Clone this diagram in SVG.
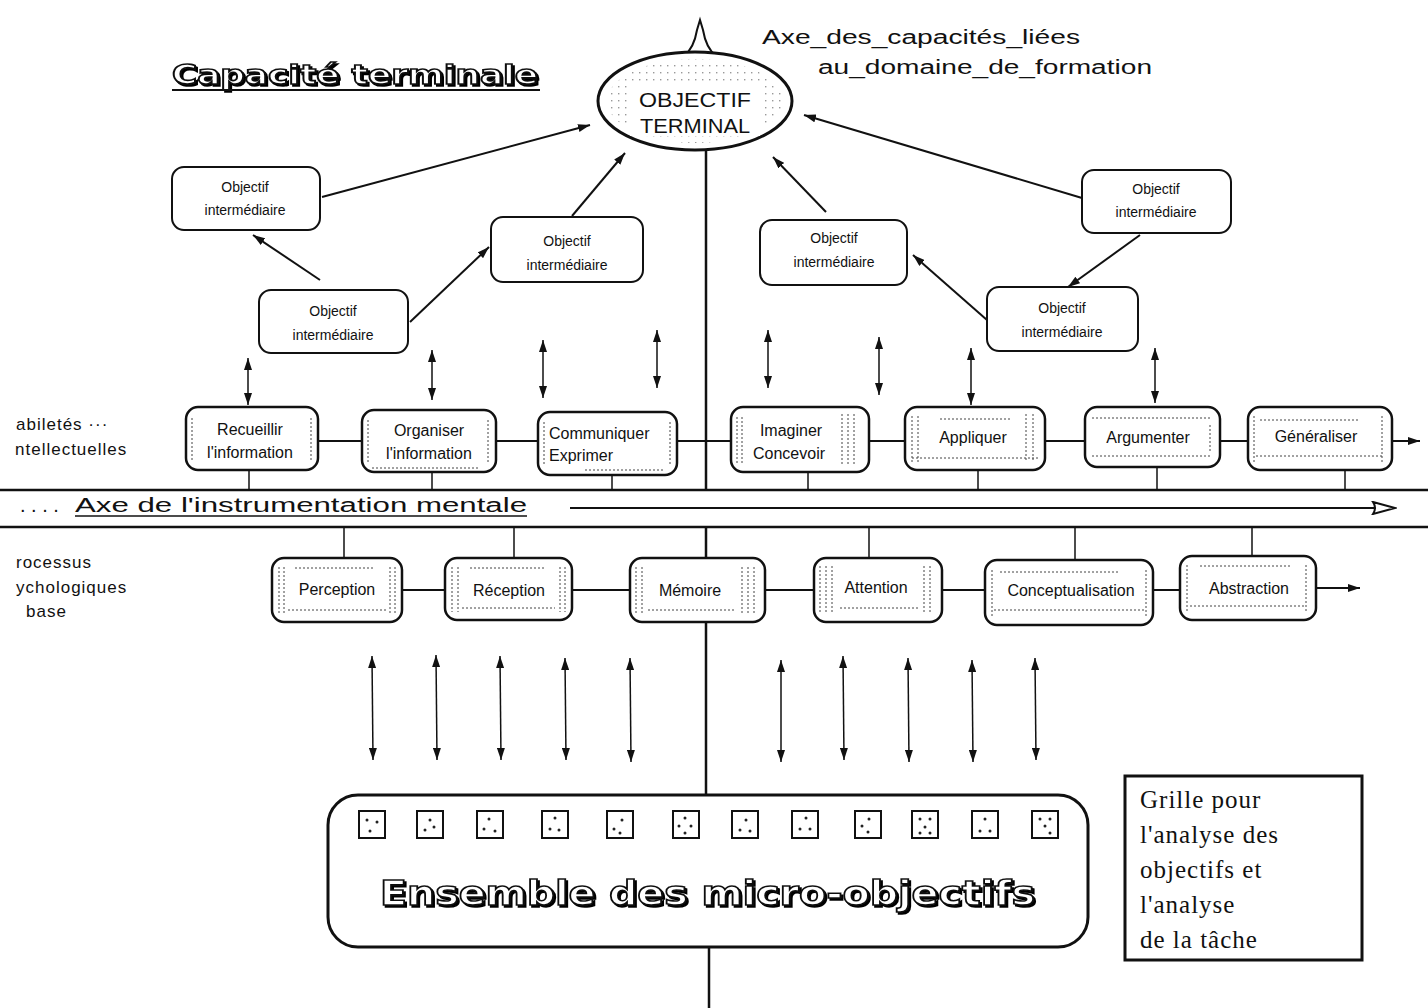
<svg xmlns="http://www.w3.org/2000/svg" width="1428" height="1008" viewBox="0 0 1428 1008">
  <style>
    .lbl { font-family: "Liberation Sans", Arial, sans-serif; font-size: 16px; fill: #111; }
    .side { font-family: "Liberation Sans", Arial, sans-serif; font-size: 17px; fill: #111; letter-spacing: 1px; }
    .inter { font-family: "Liberation Sans", Arial, sans-serif; font-size: 14px; fill: #111; text-anchor: middle; }
    .axis { font-family: "Liberation Sans", Arial, sans-serif; font-size: 20px; fill: #111; }
    .box { fill: #fff; stroke: #111; stroke-width: 2.5; }
    .ibox { fill: #fff; stroke: #111; stroke-width: 2; }
    .deco { stroke: #444; stroke-width: 1; stroke-dasharray: 2 2; fill: none; }
    .conn { stroke: #111; stroke-width: 2; fill: none; }
    .thin { stroke: #111; stroke-width: 1.5; fill: none; }
    .rule { stroke: #111; stroke-width: 2.5; fill: none; }
    .outline { font-family: "DejaVu Sans", "Liberation Sans", sans-serif; font-weight: bold; fill: #fff; stroke: #111; stroke-width: 1.6; }
    .grille { font-family: "Liberation Serif", "DejaVu Serif", serif; font-size: 25px; fill: #111; letter-spacing: 1px; }
    .mid { text-anchor: middle; }
  </style>
  <defs>
    <marker id="ah" viewBox="0 0 12 8" refX="12" refY="4" markerWidth="12" markerHeight="8" markerUnits="userSpaceOnUse" orient="auto-start-reverse">
      <path d="M0,0 L12,4 L0,8 z" fill="#111"/>
    </marker>
    <marker id="open" viewBox="0 0 26 14" refX="24" refY="7" markerWidth="26" markerHeight="14" markerUnits="userSpaceOnUse" orient="auto">
      <path d="M2,1 L24,7 L2,13 Q6,7 2,1 z" fill="#fff" stroke="#111" stroke-width="2"/>
    </marker>
    <pattern id="dots" width="7" height="7" patternUnits="userSpaceOnUse">
      <rect x="2" y="2" width="1.4" height="1.4" fill="#555"/>
    </pattern>
    <filter id="shadow" x="-5%" y="-20%" width="110%" height="150%">
      <feOffset in="SourceAlpha" dx="2" dy="2" result="off"/>
      <feMerge><feMergeNode in="off"/><feMergeNode in="SourceGraphic"/></feMerge>
    </filter>
  </defs>

  <!-- headings -->
  <g id="title">
    <text class="outline" x="172" y="84" font-size="27" textLength="366" lengthAdjust="spacingAndGlyphs" filter="url(#shadow)">Capacité terminale</text>
    <line x1="172" y1="90" x2="540" y2="90" stroke="#111" stroke-width="2"/>
  </g>
  <g id="axe-capacites">
    <text class="axis" x="762" y="44" textLength="318" lengthAdjust="spacingAndGlyphs">Axe_des_capacités_liées</text>
    <text class="axis" x="818" y="74" textLength="334" lengthAdjust="spacingAndGlyphs">au_domaine_de_formation</text>
  </g>

  <!-- horizontal band and central vertical axis -->
  <g id="connectors">
    <line class="rule" x1="0" y1="490" x2="1428" y2="490"/>
    <line class="rule" x1="0" y1="527" x2="1428" y2="527"/>
    <line class="rule" x1="706" y1="150" x2="706" y2="490"/>
    <line class="rule" x1="706" y1="527" x2="706" y2="796"/>
    <line class="rule" x1="709" y1="946" x2="709" y2="1008"/>
    <line class="conn" x1="570" y1="508" x2="1395" y2="508" marker-end="url(#open)"/>

    <!-- links between intermediate objectives -->
    <line class="conn" x1="322" y1="197" x2="590" y2="125" marker-end="url(#ah)"/>
    <line class="conn" x1="320" y1="280" x2="253" y2="235" marker-end="url(#ah)"/>
    <line class="conn" x1="410" y1="322" x2="489" y2="247" marker-end="url(#ah)"/>
    <line class="conn" x1="572" y1="216" x2="625" y2="153" marker-end="url(#ah)"/>
    <line class="conn" x1="826" y1="212" x2="773" y2="157" marker-end="url(#ah)"/>
    <line class="conn" x1="1082" y1="198" x2="804" y2="115" marker-end="url(#ah)"/>
    <line class="conn" x1="1140" y1="235" x2="1068" y2="287" marker-end="url(#ah)"/>
    <line class="conn" x1="987" y1="320" x2="913" y2="255" marker-end="url(#ah)"/>

    <!-- two-way links between the objectives and the intellectual abilities -->
    <line class="thin" x1="248" y1="358" x2="248" y2="405" marker-start="url(#ah)" marker-end="url(#ah)"/>
    <line class="thin" x1="432" y1="350" x2="432" y2="400" marker-start="url(#ah)" marker-end="url(#ah)"/>
    <line class="thin" x1="543" y1="340" x2="543" y2="398" marker-start="url(#ah)" marker-end="url(#ah)"/>
    <line class="thin" x1="657" y1="330" x2="657" y2="388" marker-start="url(#ah)" marker-end="url(#ah)"/>
    <line class="thin" x1="768" y1="330" x2="768" y2="388" marker-start="url(#ah)" marker-end="url(#ah)"/>
    <line class="thin" x1="879" y1="337" x2="879" y2="395" marker-start="url(#ah)" marker-end="url(#ah)"/>
    <line class="thin" x1="971" y1="348" x2="971" y2="405" marker-start="url(#ah)" marker-end="url(#ah)"/>
    <line class="thin" x1="1155" y1="348" x2="1155" y2="403" marker-start="url(#ah)" marker-end="url(#ah)"/>

    <!-- chain of intellectual abilities -->
    <line class="conn" x1="318" y1="441" x2="362" y2="441"/>
    <line class="conn" x1="496" y1="441" x2="538" y2="441"/>
    <line class="conn" x1="677" y1="441" x2="731" y2="441"/>
    <line class="conn" x1="869" y1="441" x2="905" y2="441"/>
    <line class="conn" x1="1045" y1="441" x2="1085" y2="441"/>
    <line class="conn" x1="1220" y1="441" x2="1248" y2="441"/>
    <line class="conn" x1="1392" y1="441" x2="1420" y2="441" marker-end="url(#ah)"/>
    <line class="thin" x1="249" y1="470" x2="249" y2="490"/>
    <line class="thin" x1="432" y1="472" x2="432" y2="490"/>
    <line class="thin" x1="612" y1="475" x2="612" y2="490"/>
    <line class="thin" x1="808" y1="472" x2="808" y2="490"/>
    <line class="thin" x1="978" y1="470" x2="978" y2="490"/>
    <line class="thin" x1="1157" y1="467" x2="1157" y2="490"/>
    <line class="thin" x1="1345" y1="470" x2="1345" y2="490"/>

    <!-- chain of basic psychological processes -->
    <line class="thin" x1="344" y1="527" x2="344" y2="558"/>
    <line class="thin" x1="514" y1="527" x2="514" y2="558"/>
    <line class="thin" x1="869" y1="527" x2="869" y2="558"/>
    <line class="thin" x1="1075" y1="527" x2="1075" y2="560"/>
    <line class="thin" x1="1252" y1="527" x2="1252" y2="556"/>
    <line class="conn" x1="402" y1="590" x2="445" y2="590"/>
    <line class="conn" x1="572" y1="590" x2="630" y2="590"/>
    <line class="conn" x1="765" y1="590" x2="814" y2="590"/>
    <line class="conn" x1="942" y1="590" x2="985" y2="590"/>
    <line class="conn" x1="1153" y1="590" x2="1180" y2="590"/>
    <line class="conn" x1="1316" y1="588" x2="1360" y2="588" marker-end="url(#ah)"/>

    <!-- two-way links to the set of micro-objectives -->
    <line class="thin" x1="372" y1="656" x2="373" y2="760" marker-start="url(#ah)" marker-end="url(#ah)"/>
    <line class="thin" x1="436" y1="655" x2="437" y2="760" marker-start="url(#ah)" marker-end="url(#ah)"/>
    <line class="thin" x1="500" y1="656" x2="501" y2="760" marker-start="url(#ah)" marker-end="url(#ah)"/>
    <line class="thin" x1="565" y1="658" x2="566" y2="760" marker-start="url(#ah)" marker-end="url(#ah)"/>
    <line class="thin" x1="630" y1="658" x2="631" y2="762" marker-start="url(#ah)" marker-end="url(#ah)"/>
    <line class="thin" x1="781" y1="660" x2="781" y2="762" marker-start="url(#ah)" marker-end="url(#ah)"/>
    <line class="thin" x1="843" y1="656" x2="844" y2="760" marker-start="url(#ah)" marker-end="url(#ah)"/>
    <line class="thin" x1="908" y1="658" x2="909" y2="762" marker-start="url(#ah)" marker-end="url(#ah)"/>
    <line class="thin" x1="972" y1="660" x2="973" y2="762" marker-start="url(#ah)" marker-end="url(#ah)"/>
    <line class="thin" x1="1035" y1="658" x2="1036" y2="760" marker-start="url(#ah)" marker-end="url(#ah)"/>
  </g>

  <!-- terminal objective -->
  <g id="objectif-terminal">
    <path d="M684,56 Q694,48 697,30 L700,20 L703,30 Q706,48 716,56" fill="#fff" stroke="#111" stroke-width="2"/>
    <ellipse cx="695" cy="101" rx="97" ry="49" fill="#fff" stroke="#111" stroke-width="3"/>
    <ellipse cx="695" cy="101" rx="88" ry="42" fill="url(#dots)" opacity="0.6"/>
    <rect x="630" y="84" width="130" height="52" fill="#fff"/>
    <text class="axis mid" x="695" y="107" font-size="21" textLength="112" lengthAdjust="spacingAndGlyphs">OBJECTIF</text>
    <text class="axis mid" x="695" y="133" font-size="21" textLength="110" lengthAdjust="spacingAndGlyphs">TERMINAL</text>
  </g>

  <!-- intermediate objectives -->
  <g id="inter-a">
    <rect class="ibox" x="172" y="167" width="148" height="63" rx="12"/>
    <text class="inter" x="245" y="192">Objectif</text>
    <text class="inter" x="245" y="215">intermédiaire</text>
  </g>
  <g id="inter-b">
    <rect class="ibox" x="491" y="217" width="152" height="65" rx="12"/>
    <text class="inter" x="567" y="246">Objectif</text>
    <text class="inter" x="567" y="270">intermédiaire</text>
  </g>
  <g id="inter-c">
    <rect class="ibox" x="259" y="290" width="149" height="63" rx="12"/>
    <text class="inter" x="333" y="316">Objectif</text>
    <text class="inter" x="333" y="340">intermédiaire</text>
  </g>
  <g id="inter-d">
    <rect class="ibox" x="760" y="220" width="147" height="65" rx="12"/>
    <text class="inter" x="834" y="243">Objectif</text>
    <text class="inter" x="834" y="267">intermédiaire</text>
  </g>
  <g id="inter-e">
    <rect class="ibox" x="1082" y="170" width="149" height="63" rx="12"/>
    <text class="inter" x="1156" y="194">Objectif</text>
    <text class="inter" x="1156" y="217">intermédiaire</text>
  </g>
  <g id="inter-f">
    <rect class="ibox" x="987" y="287" width="151" height="64" rx="12"/>
    <text class="inter" x="1062" y="313">Objectif</text>
    <text class="inter" x="1062" y="337">intermédiaire</text>
  </g>

  <!-- row labels (the page edge trims their first letters) -->
  <g id="labels-habiletes">
    <text class="side" x="16" y="430">abiletés  ···</text>
    <text class="side" x="15" y="455">ntellectuelles</text>
  </g>
  <g id="axe-instrumentation">
    <text class="axis" x="20" y="512" font-size="12" fill="#666">. . . .</text>
    <text class="axis" x="75" y="512" textLength="452" lengthAdjust="spacingAndGlyphs">Axe de l'instrumentation mentale</text>
    <line x1="75" y1="516" x2="527" y2="516" stroke="#111" stroke-width="1.5"/>
  </g>
  <g id="labels-processus">
    <text class="side" x="16" y="568">rocessus</text>
    <text class="side" x="16" y="593">ychologiques</text>
    <text class="side" x="26" y="617">base</text>
  </g>

  <!-- intellectual abilities -->
  <g id="hab-recueillir">
    <rect class="box" x="186" y="407" width="132" height="63" rx="12"/>
    <path class="deco" d="M192,418 V462 M311,418 V462"/>
    <text class="lbl mid" x="250" y="435">Recueillir</text>
    <text class="lbl mid" x="250" y="458">l'information</text>
  </g>
  <g id="hab-organiser">
    <rect class="box" x="362" y="410" width="134" height="62" rx="12"/>
    <path class="deco" d="M368,420 V464 M488,420 V464 M372,468 H480"/>
    <text class="lbl mid" x="429" y="436">Organiser</text>
    <text class="lbl mid" x="429" y="459">l'information</text>
  </g>
  <g id="hab-communiquer">
    <rect class="box" x="538" y="412" width="139" height="63" rx="12"/>
    <path class="deco" d="M544,422 V466 M670,422 V466 M585,470 H665"/>
    <text class="lbl" x="549" y="439">Communiquer</text>
    <text class="lbl" x="549" y="461">Exprimer</text>
  </g>
  <g id="hab-imaginer">
    <rect class="box" x="731" y="407" width="138" height="65" rx="12"/>
    <path class="deco" d="M737,417 V464 M742,417 V464 M842,414 V466 M848,414 V466 M854,414 V466"/>
    <text class="lbl mid" x="791" y="436">Imaginer</text>
    <text class="lbl mid" x="789" y="459">Concevoir</text>
  </g>
  <g id="hab-appliquer">
    <rect class="box" x="905" y="407" width="140" height="63" rx="12"/>
    <path class="deco" d="M912,416 V462 M918,416 V462 M1026,414 V462 M1033,414 V462 M940,419 H1010 M912,458 H1038"/>
    <text class="lbl mid" x="973" y="443">Appliquer</text>
  </g>
  <g id="hab-argumenter">
    <rect class="box" x="1085" y="407" width="135" height="60" rx="12"/>
    <path class="deco" d="M1092,418 H1212 M1092,456 H1212 M1210,425 V452"/>
    <text class="lbl mid" x="1148" y="443">Argumenter</text>
  </g>
  <g id="hab-generaliser">
    <rect class="box" x="1248" y="407" width="144" height="63" rx="12"/>
    <path class="deco" d="M1254,416 V462 M1382,416 V462 M1260,420 H1360 M1256,456 H1384"/>
    <text class="lbl mid" x="1316" y="442">Généraliser</text>
  </g>

  <!-- basic psychological processes -->
  <g id="proc-perception">
    <rect class="box" x="272" y="558" width="130" height="64" rx="12"/>
    <path class="deco" d="M279,567 V614 M284,567 V614 M390,567 V614 M395,567 V614 M295,568 H375 M288,610 H388"/>
    <text class="lbl mid" x="337" y="595">Perception</text>
  </g>
  <g id="proc-reception">
    <rect class="box" x="445" y="558" width="127" height="62" rx="12"/>
    <path class="deco" d="M452,567 V612 M458,567 V612 M560,567 V612 M565,567 V612 M470,568 H545 M462,608 H555"/>
    <text class="lbl mid" x="509" y="596">Réception</text>
  </g>
  <g id="proc-memoire">
    <rect class="box" x="630" y="558" width="135" height="64" rx="12"/>
    <path class="deco" d="M636,567 V614 M642,567 V614 M742,567 V614 M748,567 V614 M754,567 V614 M648,610 H735"/>
    <text class="lbl mid" x="690" y="596">Mémoire</text>
  </g>
  <g id="proc-attention">
    <rect class="box" x="814" y="558" width="128" height="64" rx="12"/>
    <path class="deco" d="M820,566 V614 M826,566 V614 M832,566 V614 M924,566 V614 M930,566 V614 M840,608 H920"/>
    <text class="lbl mid" x="876" y="593">Attention</text>
  </g>
  <g id="proc-conceptualisation">
    <rect class="box" x="985" y="560" width="168" height="65" rx="12"/>
    <path class="deco" d="M992,570 V616 M1146,570 V616 M1000,572 H1120 M994,610 H1146"/>
    <text class="lbl mid" x="1071" y="596">Conceptualisation</text>
  </g>
  <g id="proc-abstraction">
    <rect class="box" x="1180" y="556" width="136" height="64" rx="12"/>
    <path class="deco" d="M1187,565 V612 M1306,565 V612 M1200,566 H1290 M1190,606 H1306"/>
    <text class="lbl mid" x="1249" y="594">Abstraction</text>
  </g>

  <!-- set of micro-objectives -->
  <g id="micro-objectifs">
    <rect x="328" y="795" width="760" height="152" rx="30" fill="#fff" stroke="#111" stroke-width="3"/>
    <g fill="#fff" stroke="#111" stroke-width="2">
      <rect x="359" y="811" width="26" height="27"/>
      <rect x="417" y="811" width="26" height="27"/>
      <rect x="477" y="811" width="26" height="27"/>
      <rect x="542" y="811" width="26" height="27"/>
      <rect x="607" y="811" width="26" height="27"/>
      <rect x="673" y="811" width="26" height="27"/>
      <rect x="732" y="811" width="26" height="27"/>
      <rect x="792" y="811" width="26" height="27"/>
      <rect x="855" y="811" width="26" height="27"/>
      <rect x="912" y="811" width="26" height="27"/>
      <rect x="972" y="811" width="26" height="27"/>
      <rect x="1032" y="811" width="26" height="27"/>
    </g>
    <g fill="#222">
      <circle cx="367" cy="820" r="1.5"/><circle cx="377" cy="822" r="1.5"/><circle cx="370" cy="831" r="1.5"/>
      <circle cx="430" cy="820" r="1.5"/><circle cx="425" cy="830" r="1.5"/><circle cx="434" cy="827" r="1.5"/>
      <circle cx="489" cy="819" r="1.5"/><circle cx="484" cy="829" r="1.5"/><circle cx="495" cy="831" r="1.5"/>
      <circle cx="555" cy="818" r="1.5"/><circle cx="550" cy="829" r="1.5"/><circle cx="559" cy="830" r="1.5"/>
      <circle cx="622" cy="820" r="1.5"/><circle cx="614" cy="829" r="1.5"/><circle cx="620" cy="833" r="1.5"/>
      <circle cx="685" cy="818" r="1.5"/><circle cx="679" cy="826" r="1.5"/><circle cx="691" cy="826" r="1.5"/><circle cx="685" cy="833" r="1.5"/>
      <circle cx="746" cy="820" r="1.5"/><circle cx="740" cy="830" r="1.5"/><circle cx="750" cy="831" r="1.5"/>
      <circle cx="806" cy="818" r="1.5"/><circle cx="800" cy="829" r="1.5"/><circle cx="810" cy="829" r="1.5"/>
      <circle cx="869" cy="819" r="1.5"/><circle cx="862" cy="826" r="1.5"/><circle cx="868" cy="832" r="1.5"/>
      <circle cx="920" cy="819" r="1.5"/><circle cx="930" cy="819" r="1.5"/><circle cx="925" cy="827" r="1.5"/><circle cx="920" cy="833" r="1.5"/><circle cx="930" cy="833" r="1.5"/>
      <circle cx="985" cy="819" r="1.5"/><circle cx="980" cy="831" r="1.5"/><circle cx="990" cy="831" r="1.5"/>
      <circle cx="1040" cy="819" r="1.5"/><circle cx="1050" cy="819" r="1.5"/><circle cx="1045" cy="826" r="1.5"/><circle cx="1050" cy="833" r="1.5"/>
    </g>
    <text class="outline" x="380" y="905" font-size="34" textLength="655" lengthAdjust="spacingAndGlyphs" filter="url(#shadow)">Ensemble des micro-objectifs</text>
  </g>

  <!-- legend -->
  <g id="grille">
    <rect x="1125" y="776" width="237" height="184" fill="#fff" stroke="#111" stroke-width="3"/>
    <text class="grille" x="1140" y="808">Grille pour</text>
    <text class="grille" x="1140" y="843">l'analyse des</text>
    <text class="grille" x="1140" y="878">objectifs  et</text>
    <text class="grille" x="1140" y="913">l'analyse</text>
    <text class="grille" x="1140" y="948">de la tâche</text>
  </g>
</svg>
